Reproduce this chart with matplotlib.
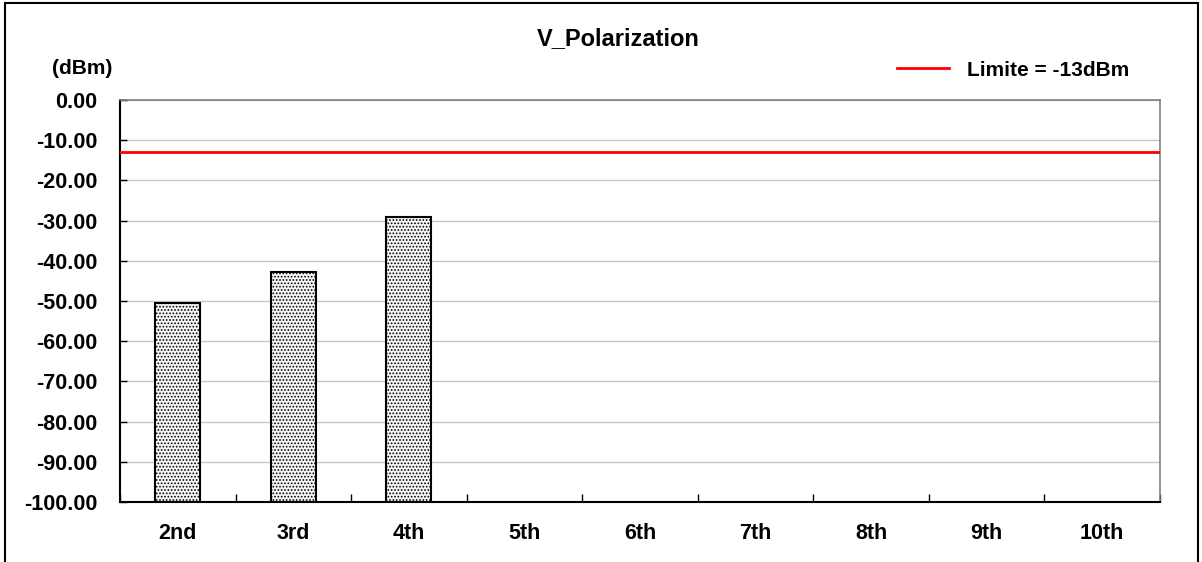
import numpy as np
import matplotlib.pyplot as plt
from matplotlib.patches import Rectangle

plt.rcParams['font.family'] = ['Liberation Sans', 'DejaVu Sans']
plt.rcParams['font.weight'] = 'bold'
plt.rcParams['hatch.color'] = '#b4b4b4'
plt.rcParams['hatch.linewidth'] = 0.8

# harmonic levels (dBm)
harmonics = ['2nd', '3rd', '4th', '5th', '6th', '7th', '8th', '9th', '10th']
levels = [-50.4, -42.7, -29.0, None, None, None, None, None, None]
limit = -13
yticks = [0, -10, -20, -30, -40, -50, -60, -70, -80, -90, -100]

fig = plt.figure(figsize=(12.02, 5.62), dpi=100)
ax = fig.add_axes([0.0998, 0.1068, 0.8653, 0.7153])

x = np.arange(len(harmonics))
idx = [i for i, v in enumerate(levels) if v is not None]
vals = [levels[i] for i in idx]
ax.bar(idx, [v - (-100) for v in vals], bottom=-100, width=0.39,
       facecolor='#f6f6f6', edgecolor='black', linewidth=1.5, hatch='.....', zorder=3)

ax.axhline(limit, color='#ff0000', linewidth=2, zorder=4, label='Limite = -13dBm')

ax.set_xlim(-0.5, len(harmonics) - 0.5)
ax.set_ylim(-100, 0)
ax.set_yticks(yticks)
ax.set_yticklabels(['%.2f' % v for v in yticks])
ax.yaxis.grid(True, color='#c8c8c8', linewidth=1)
ax.set_axisbelow(True)

# ticks on category boundaries, labels at centres
ax.set_xticks(np.arange(-0.5, len(harmonics), 1.0))
ax.set_xticklabels([])
ax.set_xticks(x, minor=True)
ax.set_xticklabels(harmonics, minor=True)
ax.tick_params(axis='x', which='major', direction='in', length=6, width=1, color='black')
ax.tick_params(axis='x', which='minor', length=0, pad=15, labelsize=15.5)
ax.tick_params(axis='y', direction='in', length=5, width=1, color='black', pad=16, labelsize=15.5)

for s in ['left', 'bottom']:
    ax.spines[s].set_color('black')
    ax.spines[s].set_linewidth(1.5)
for s in ['top', 'right']:
    ax.spines[s].set_color('#808080')
    ax.spines[s].set_linewidth(1.2)

fig.text(618.5 / 1202, 1 - 45 / 562, 'V_Polarization', ha='center', va='baseline', fontsize=17, fontweight='bold')
fig.text(112 / 1202, 1 - 68 / 562, '(dBm)', ha='right', va='center', fontsize=15, fontweight='bold')

ax.legend(loc='lower right', bbox_to_anchor=(1138 / 1202, 1 - 88 / 562), bbox_transform=fig.transFigure,
          frameon=False, fontsize=15, handlelength=2.5, handletextpad=0.87, borderaxespad=0)

# outer chart frame
fig.patches.append(Rectangle((5 / 1202, -0.1), 1193 / 1202, 1.1 - 3 / 562, transform=fig.transFigure,
                             fill=False, edgecolor='black', linewidth=1.5, clip_on=False))

fig.savefig('out.png', dpi=100)
